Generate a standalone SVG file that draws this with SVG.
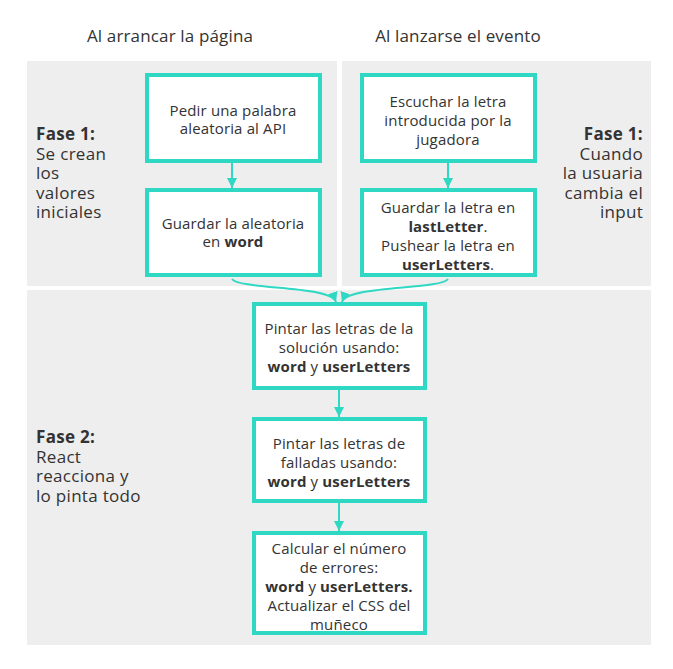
<svg xmlns="http://www.w3.org/2000/svg" width="673" height="669" viewBox="0 0 673 669">
<style>
text{font-family:"Open Sans","Liberation Sans",sans-serif;fill:#333;font-size:15px;letter-spacing:0.15px}
.h{font-size:17px;text-anchor:middle}
.c{text-anchor:middle}
.r{text-anchor:end}
.side{font-size:17px;letter-spacing:0.3px}
.b{font-weight:bold}
.box{fill:#fff;stroke:#2fd8c3;stroke-width:4}
.panel{fill:#eeeeee}
.con{fill:none;stroke:#2fd8c3;stroke-width:2}
</style>
<defs>
<marker id="ah" viewBox="0 0 10 10" refX="10" refY="5" markerWidth="10" markerHeight="10" markerUnits="userSpaceOnUse" orient="auto">
<path d="M0,0 L10,5 L0,10 z" fill="#2fd8c3"/>
</marker>
</defs>
<rect width="673" height="669" fill="#fff"/>
<g id="panels">
<rect class="panel" x="27" y="61" width="310" height="225"/>
<rect class="panel" x="342" y="61" width="309" height="225"/>
<rect class="panel" x="27" y="290" width="624" height="355"/>
</g>
<g id="headers">
<text class="h" x="170" y="42">Al arrancar la página</text>
<text class="h" x="458" y="42">Al lanzarse el evento</text>
</g>
<g id="labels">
<text class="side" x="36" y="140"><tspan class="b">Fase 1:</tspan><tspan x="36" y="159.5">Se crean</tspan><tspan x="36" y="179">los</tspan><tspan x="36" y="198.5">valores</tspan><tspan x="36" y="218">iniciales</tspan></text>
<text class="side r" x="643" y="140"><tspan class="b">Fase 1:</tspan><tspan x="643" y="159.5">Cuando</tspan><tspan x="643" y="179">la usuaria</tspan><tspan x="643" y="198.5">cambia el</tspan><tspan x="643" y="218">input</tspan></text>
<text class="side" x="36" y="443"><tspan class="b">Fase 2:</tspan><tspan x="36" y="462.5">React</tspan><tspan x="36" y="482">reacciona y</tspan><tspan x="36" y="501.5">lo pinta todo</tspan></text>
</g>
<g id="connectors">
<path class="con" d="M232,163 V188" marker-end="url(#ah)"/>
<path class="con" d="M448,163 V188" marker-end="url(#ah)"/>
<path class="con" d="M232,279 C240,290 330,285 336,302" marker-end="url(#ah)"/>
<path class="con" d="M448,279 C440,290 348,285 342,302" marker-end="url(#ah)"/>
<path class="con" d="M339,390 V417" marker-end="url(#ah)"/>
<path class="con" d="M339,503 V531" marker-end="url(#ah)"/>
</g>
<g id="n1">
<rect class="box" x="147" y="75" width="173" height="86"/>
<text class="c" x="233" y="116">Pedir una palabra<tspan x="233" y="134">aleatoria al API</tspan></text>
</g>
<g id="n2">
<rect class="box" x="147" y="190" width="173" height="85"/>
<text class="c" x="233" y="229">Guardar la aleatoria<tspan x="233" y="247">en <tspan class="b">word</tspan></tspan></text>
</g>
<g id="n3">
<rect class="box" x="362" y="75" width="173" height="86"/>
<text class="c" x="448" y="107">Escuchar la letra<tspan x="448" y="126">introducida por la</tspan><tspan x="448" y="145">jugadora</tspan></text>
</g>
<g id="n4">
<rect class="box" x="362" y="190" width="173" height="85"/>
<text class="c" x="448" y="213">Guardar la letra en<tspan x="448" y="232"><tspan class="b">lastLetter</tspan>.</tspan><tspan x="448" y="251">Pushear la letra en</tspan><tspan x="448" y="270"><tspan class="b">userLetters</tspan>.</tspan></text>
</g>
<g id="n5">
<rect class="box" x="254" y="304" width="171" height="84"/>
<text class="c" x="339" y="334">Pintar las letras de la<tspan x="339" y="353">solución usando:</tspan><tspan x="339" y="372"><tspan class="b">word</tspan> y <tspan class="b">userLetters</tspan></tspan></text>
</g>
<g id="n6">
<rect class="box" x="254" y="419" width="171" height="82"/>
<text class="c" x="339" y="449">Pintar las letras de<tspan x="339" y="468">falladas usando:</tspan><tspan x="339" y="487"><tspan class="b">word</tspan> y <tspan class="b">userLetters</tspan></tspan></text>
</g>
<g id="n7">
<rect class="box" x="254" y="533" width="171" height="100"/>
<text class="c" x="339" y="554">Calcular el número<tspan x="339" y="573">de errores:</tspan><tspan x="339" y="592"><tspan class="b">word</tspan> y <tspan class="b">userLetters.</tspan></tspan><tspan x="339" y="611">Actualizar el CSS del</tspan><tspan x="339" y="630">muñeco</tspan></text>
</g>
</svg>
